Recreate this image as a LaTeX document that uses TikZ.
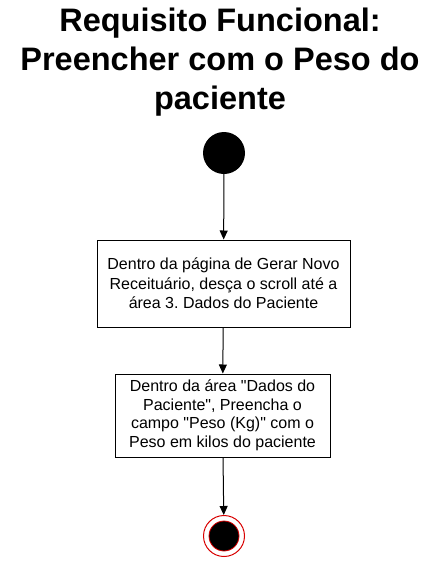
\documentclass[tikz,border=0pt]{standalone}
\usepackage{fontspec}
\setmainfont{Liberation Sans}[Ligatures=TeXOff]
\usetikzlibrary{arrows.meta}
\frenchspacing
\begin{document}
\begin{tikzpicture}[x=1pt,y=-1pt,
  actbox/.style={draw=black, line width=1pt, fill=white, minimum width=#1, align=center, font=\fontsize{16}{19.5}\selectfont, inner sep=0pt},
  flow/.style={draw=black, line width=1pt, -{Triangle[length=9pt,width=8pt]}},
  titletext/.style={align=center, font=\fontsize{32.5}{39}\selectfont\bfseries}]
\useasboundingbox (0,0) rectangle (440,576);
\fill[white] (0,0) rectangle (440,576);
\node[titletext] (title) at (220,62) {Requisito Funcional:\\Preencher com o Peso do\\paciente};
\node[circle, fill=black, minimum size=42pt, inner sep=0pt] (start) at (224,153) {};
\node[actbox=253pt, minimum height=87pt] (b1) at (223.5,283.5) {Dentro da página de Gerar Novo\\Receituário, desça o scroll até a\\área 3. Dados do Paciente};
\node[actbox=215pt, minimum height=83pt, font=\fontsize{16}{18.5}\selectfont] (b2) at (222.5,415.5) {Dentro da área "Dados do\\Paciente", Preencha o\\campo "Peso (Kg)" com o\\Peso em kilos do paciente};
\node[circle, draw=red!85!black, line width=1pt, fill=white, minimum size=41pt, inner sep=0pt] (endo) at (224,536) {};
\node[circle, draw=red!85!black, line width=0.8pt, fill=black, minimum size=30pt, inner sep=0pt] (endi) at (224,536) {};
\draw[flow] (start) -- (b1);
\draw[flow] (b1) -- (b2);
\draw[flow] (b2) -- (endo);
\end{tikzpicture}
\end{document}
